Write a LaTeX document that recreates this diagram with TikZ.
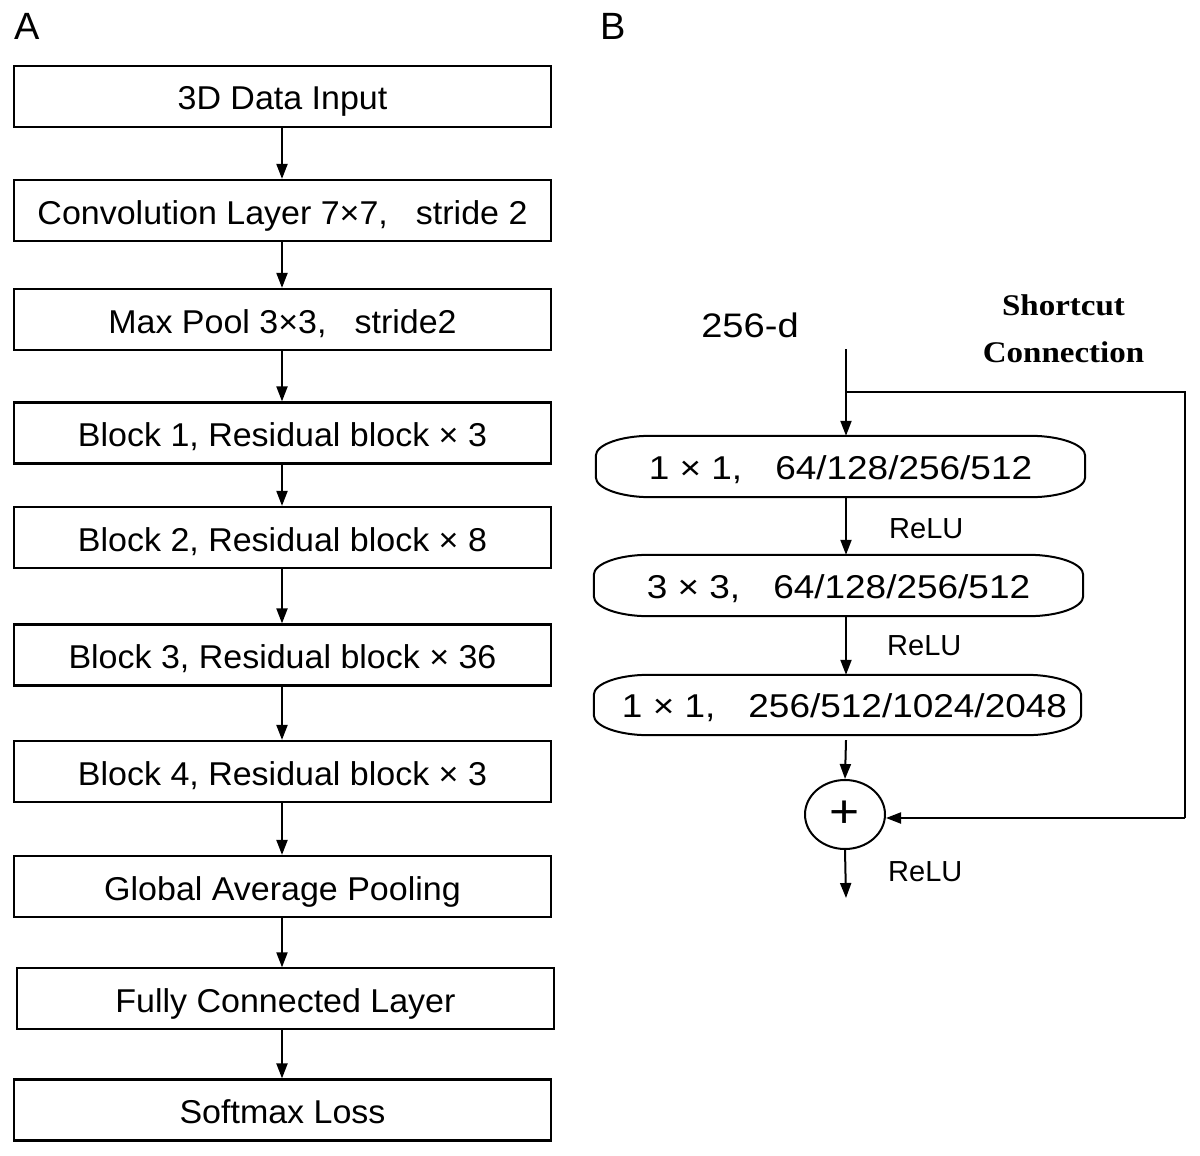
\documentclass[tikz,border=0pt]{standalone}
\usepackage{fontspec}
\setmainfont{Liberation Sans}
\newfontfamily\leftfont{Liberation Sans}[FakeStretch=1.03]
\newfontfamily\rightfont{Liberation Sans}[FakeStretch=1.12]
\newfontfamily\scfont{Liberation Serif}[FakeStretch=1.1]
\usetikzlibrary{arrows.meta,shapes.geometric}
\newcommand\drawpill[1]{%
  \draw[pillline] ([xshift=55pt]#1.north west) -- ([xshift=-55pt]#1.north east)
    arc[start angle=90,end angle=0,x radius=55pt,y radius=20pt]
    -- ([yshift=20pt]#1.south east)
    arc[start angle=0,end angle=-90,x radius=55pt,y radius=20pt]
    -- ([xshift=55pt]#1.south west)
    arc[start angle=270,end angle=180,x radius=55pt,y radius=20pt]
    -- ([yshift=-20pt]#1.north west)
    arc[start angle=180,end angle=90,x radius=55pt,y radius=20pt] -- cycle;}
\begin{document}
\begin{tikzpicture}[x=1pt,y=-1pt,
  lbox/.style={draw, line width=2.2pt, minimum width=537pt, minimum height=61pt,
    inner sep=0pt, text height=27pt, text depth=0pt,
    font=\leftfont\fontsize{33}{40}\selectfont},
  rbox/.style={inner sep=0pt, minimum height=61pt, text height=25.5pt, text depth=0pt,
    font=\rightfont\fontsize{33}{39}\selectfont},
  arr/.style={line width=2pt, -{Triangle[length=15pt,width=11pt]}},
  pillline/.style={line width=2pt, line join=round},
  relu/.style={anchor=base west, inner sep=0pt, font=\fontsize{29}{34}\selectfont},
  plain/.style={line width=2pt}]
\fill[white] (0,0) rectangle (1200,1156);
\useasboundingbox (0,0) rectangle (1200,1156);

% panel labels
\node[anchor=base west, inner sep=0pt, font=\fontsize{38}{44}\selectfont] (labA) at (14,40) {A};
\node[anchor=base west, inner sep=0pt, font=\fontsize{38}{44}\selectfont] (labB) at (600,40) {B};

% panel A
\coordinate (ax) at (282,0);
\node[lbox] (b1) at (282.5,96.5) {3D Data Input};
\node[lbox] (b2) at (282.5,210.5) {Convolution Layer 7×7,\hspace{0.85em}stride 2};
\node[lbox] (b3) at (282.5,319.5) {Max Pool 3×3,\hspace{0.85em}stride2};
\node[lbox] (b4) at (282.5,433) {Block 1, Residual block × 3};
\node[lbox] (b5) at (282.5,537.5) {Block 2, Residual block × 8};
\node[lbox] (b6) at (282.5,655) {Block 3, Residual block × 36};
\node[lbox] (b7) at (282.5,771.5) {Block 4, Residual block × 3};
\node[lbox] (b8) at (282.5,886.5) {Global Average Pooling};
\node[lbox, line width=1.3pt] (b9) at (285.5,998.5) {Fully Connected Layer};
\node[lbox] (b10) at (282.5,1110) {Softmax Loss};
\foreach \a/\b in {b1/b2,b2/b3,b3/b4,b4/b5,b5/b6,b6/b7,b7/b8,b8/b9,b9/b10}
  \draw[arr] (\a.south -| ax) -- (\b.north -| ax);

% panel B
\node[anchor=base, inner sep=0pt, font=\rightfont\fontsize{34}{40}\selectfont] (dim) at (750,337) {256-d};
\node[anchor=base, inner sep=0pt, font=\scfont\bfseries\fontsize{30}{36}\selectfont] (sc) at (1063.5,315) {Shortcut};
\node[anchor=base, inner sep=0pt, font=\scfont\bfseries\fontsize{30}{36}\selectfont] (cn) at (1063.5,362) {Connection};

\node[rbox, minimum width=489pt] (r1) at (840.5,466.5) {1 × 1,\hspace{1em}64/128/256/512};
\node[rbox, minimum width=489pt] (r2) at (838.5,585.5) {3 × 3,\hspace{1em}64/128/256/512};
\node[rbox, minimum width=487pt, minimum height=60pt] (r3) at (837.5,705) {\hspace{14pt}1 × 1,\hspace{1em}256/512/1024/2048};
\drawpill{r1}
\drawpill{r2}
\drawpill{r3}

\node[draw, ellipse, line width=2pt, minimum width=80pt, minimum height=69pt, inner sep=0pt,
  font=\rightfont\fontsize{46}{50}\selectfont] (plus) at (845,814.5) {+};

\coordinate (in) at (846,349);
\coordinate (br) at (846,392);
\coordinate (sc1) at (1185,392);
\coordinate (sc2) at (1185,818);
\coordinate (out) at (846,898);

\draw[arr] (in) -- (in |- r1.north);
\draw[plain] (br) -- (sc1) -- (sc2);
\draw[arr] (sc2) -- (plus.east |- sc2);
\draw[arr] (r1.south -| in) -- (r2.north -| in);
\draw[arr] (r2.south -| in) -- (r3.north -| in);
\draw[arr] ([yshift=-5pt]r3.south -| in) -- (plus.north);
\draw[arr] (plus.south) -- (out);

\node[relu] (relu1) at (889,538) {ReLU};
\node[relu] (relu2) at (887,655) {ReLU};
\node[relu] (relu3) at (888,881) {ReLU};
\end{tikzpicture}
\end{document}
